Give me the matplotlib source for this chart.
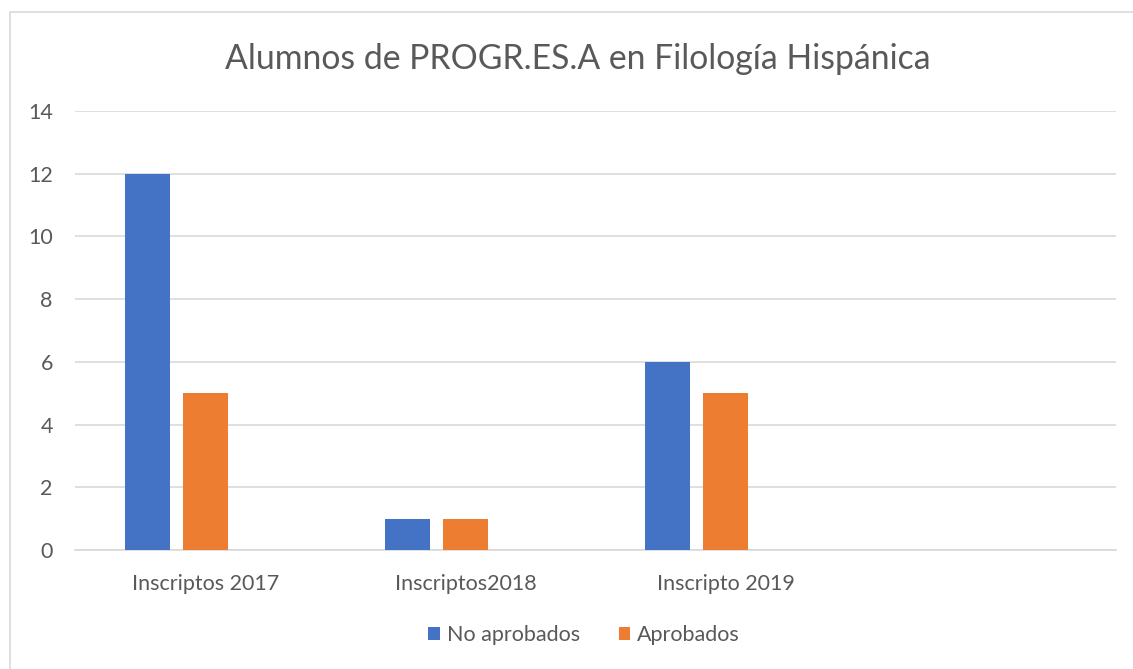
import matplotlib
matplotlib.use("Agg")
import matplotlib.pyplot as plt
from matplotlib.lines import Line2D
import numpy as np

categories = ["Inscriptos 2017", "Inscriptos2018", "Inscripto 2019", ""]
no_aprobados = [12, 1, 6, 0]
aprobados = [5, 1, 5, 0]
series_names = ["No aprobados", "Aprobados"]
colors = ["#4472C4", "#ED7D31"]
yticks = [0, 2, 4, 6, 8, 10, 12, 14]

plt.rcParams['font.family'] = ['Lato', 'DejaVu Sans']
fig = plt.figure(figsize=(11.33, 6.69), dpi=100)
# chart-area border (only top and left visible in the reference)
fig.lines.append(Line2D([10/1133, 10/1133, 1.0], [0.0, 1 - 12/669, 1 - 12/669],
                        transform=fig.transFigure, color="#d9d9d9", linewidth=1.2))
ax = fig.add_axes([75/1133, 119/669, 1041/1133, 439/669])

x = np.arange(len(categories))
slot = 58/260
width = 45/260
ax.bar(x - slot, no_aprobados, width, color=colors[0], label=series_names[0], zorder=3)
ax.bar(x, aprobados, width, color=colors[1], label=series_names[1], zorder=3)

ax.set_xlim(-0.5, len(categories) - 0.5)
ax.set_ylim(0, 14)
ax.set_yticks(yticks)
ax.set_xticks(x)
ax.set_xticklabels(categories)
ax.yaxis.grid(True, color="#d9d9d9", linewidth=1.2, zorder=0)
for s in ["top", "right", "left"]:
    ax.spines[s].set_visible(False)
ax.spines["bottom"].set_color("#d9d9d9")
ax.spines["bottom"].set_linewidth(1.2)
ax.tick_params(axis="both", length=0, labelsize=15.5, colors="#595959")
ax.tick_params(axis="y", pad=16)
ax.tick_params(axis="x", pad=17)

fig.text(578/1133, 1 - 59/669, "Alumnos de PROGR.ES.A en Filología Hispánica",
         ha="center", va="center", fontsize=24.3, color="#595959")

ax.legend(loc="center", bbox_to_anchor=(584/1133, 1 - 635/669), bbox_transform=fig.transFigure,
          ncol=2, frameon=False, fontsize=15.5, handlelength=0.55, handleheight=0.55,
          columnspacing=1.8, handletextpad=0.3, labelcolor="#595959")

fig.savefig("out.png", dpi=100)
